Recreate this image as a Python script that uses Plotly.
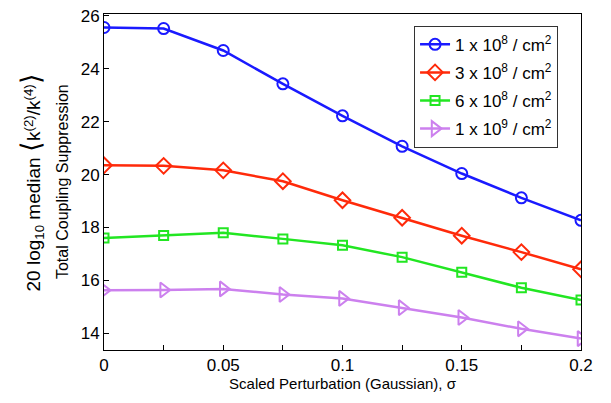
import plotly.graph_objects as go

sigma = [0, 0.025, 0.05, 0.075, 0.1, 0.125, 0.15, 0.175, 0.2]
s_1e8 = [25.56, 25.52, 24.69, 23.43, 22.22, 21.07, 20.04, 19.12, 18.27]
s_3e8 = [20.35, 20.33, 20.16, 19.75, 19.03, 18.37, 17.69, 17.07, 16.42]
s_6e8 = [17.60, 17.70, 17.80, 17.57, 17.33, 16.88, 16.31, 15.72, 15.26]
s_1e9 = [15.63, 15.64, 15.68, 15.47, 15.32, 14.97, 14.60, 14.17, 13.80]
names = ["1 x 10<sup>8</sup> / cm<sup>2</sup>", "3 x 10<sup>8</sup> / cm<sup>2</sup>",
         "6 x 10<sup>8</sup> / cm<sup>2</sup>", "1 x 10<sup>9</sup> / cm<sup>2</sup>"]
xtickvals = [0, 0.025, 0.05, 0.075, 0.1, 0.125, 0.15, 0.175, 0.2]
xticktext = ["0", "", "0.05", "", "0.1", "", "0.15", "", "0.2"]
yticks = [14, 16, 18, 20, 22, 24, 26]

series = [s_1e8, s_3e8, s_6e8, s_1e9]
colors = ["#1a1aff", "#ff2a0a", "#22e622", "#cc80ee"]
symbols = ["circle-open", "diamond-open", "square-open", "triangle-right-open"]
sizes = [11, 12, 9, 13]

fig = go.Figure()
for i, (ys, nm, c, sym, sz) in enumerate(zip(series, names, colors, symbols, sizes)):
    fig.add_trace(go.Scatter(x=sigma, y=ys, name=nm, mode="lines+markers",
                             legendgroup="g%d" % i,
                             line=dict(color=c, width=2.5),
                             marker=dict(symbol=sym, size=sz, color=c,
                                         line=dict(width=2, color=c))))

font = "Liberation Sans, Arial, sans-serif"
fig.update_layout(
    width=611, height=403,
    margin=dict(l=104, r=30, t=7, b=53),
    paper_bgcolor="white", plot_bgcolor="white",
    font=dict(family=font, size=17, color="black"),
    legend=dict(x=0.65, y=0.965, xanchor="left", yanchor="top",
                bordercolor="#333", borderwidth=1, bgcolor="white",
                font=dict(size=17), tracegroupgap=3, itemwidth=30),
    showlegend=True,
)
fig.update_xaxes(range=[0, 0.2], tickvals=xtickvals, ticktext=xticktext,
                 ticks="inside", ticklen=5, tickcolor="black", tickwidth=1,
                 showline=True, linecolor="black", linewidth=1, mirror=True,
                 showgrid=False, zeroline=False, ticklabeloverflow="allow",
                 tickfont=dict(size=17),
                 title=dict(text="Scaled Perturbation (Gaussian), σ",
                            font=dict(size=15), standoff=3))
fig.update_yaxes(range=[13.37, 26.07], tickvals=yticks,
                 ticks="inside", ticklen=5, tickcolor="black", tickwidth=1,
                 showline=True, linecolor="black", linewidth=1, mirror=True,
                 showgrid=False, zeroline=False, ticklabeloverflow="allow",
                 tickfont=dict(size=17))

fig.add_annotation(xref="paper", yref="paper", x=-0.152, y=0.5,
                   xanchor="center", yanchor="middle", textangle=-90,
                   text=("20 log<sub>10</sub> median "
                         "<span style=\"font-size:27px\">\u27e8</span>"
                         "k<sup>(2)</sup>/k<sup>(4)</sup>"
                         "<span style=\"font-size:27px\">\u27e9</span>"),
                   showarrow=False, font=dict(size=19, family=font))
fig.add_annotation(xref="paper", yref="paper", x=-0.088, y=0.5,
                   xanchor="center", yanchor="middle", textangle=-90,
                   text="Total Coupling Suppression",
                   showarrow=False, font=dict(size=16, family=font))

fig.write_html("out.html")
